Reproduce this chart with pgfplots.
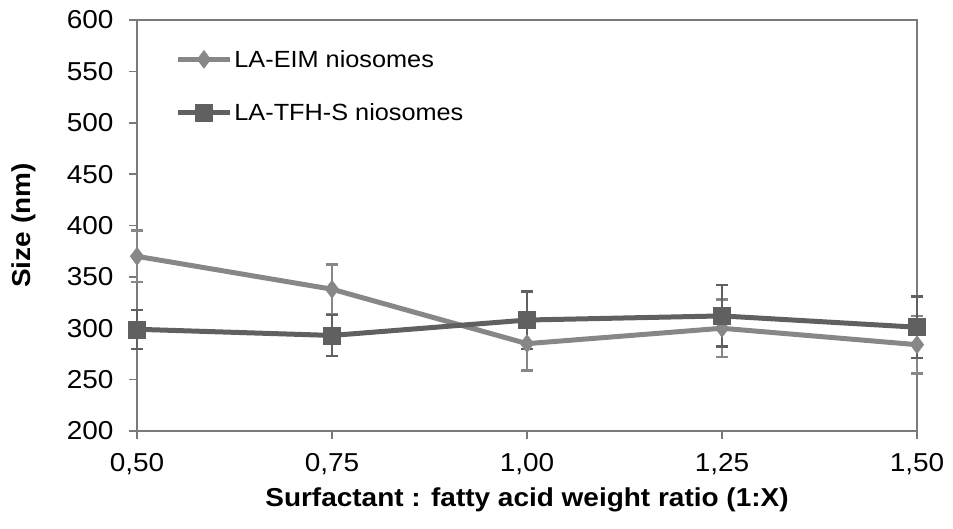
\documentclass[border=0pt]{standalone}
\usepackage{pgfplots}
\pgfplotsset{compat=1.18}
\usepackage{fontspec}
\setmainfont[FakeStretch=1.08]{Liberation Sans}
\definecolor{eim}{HTML}{878787}
\definecolor{tfh}{HTML}{606060}
\definecolor{axgray}{HTML}{7A7A7A}
\begin{document}
\begin{tikzpicture}[x=1bp,y=1bp]
\begin{axis}[
  name=ax,
  scale only axis,
  width=780bp, height=411bp,
  xmin=0.5, xmax=1.5, ymin=200, ymax=600,
  xtick={0.5,0.75,1,1.25,1.5},
  xticklabels={0{,}50,0{,}75,1{,}00,1{,}25,1{,}50},
  ytick={200,250,...,600},
  /pgf/number format/assume math mode=true,
  tick label style={font=\fontsize{26}{30}\selectfont},
  yticklabel style={xshift=-12bp},
  xticklabel style={yshift=-11bp},
  label style={font=\bfseries\fontsize{26}{30}\selectfont},
  xlabel={Surfactant : fatty acid weight ratio (1:X)},
  ylabel={Size (nm)},
  xlabel style={at={(axis description cs:0.5,0)}, anchor=center, yshift=-69bp},
  ylabel style={at={(axis description cs:0,0.5)}, anchor=center, yshift=113bp},
  axis line style={axgray, line width=1.8bp},
  tick style={axgray, line width=1.5bp},
  tick align=outside,
  major tick length=8bp,
  xtick pos=bottom, ytick pos=left,
  clip=false,
  legend style={draw=none, fill=none, at={(0.049,0.932)}, anchor=north west,
    font=\fontsize{23.5}{27}\selectfont, row sep=31bp, inner sep=0pt},
  legend cell align=left,
  legend image code/.code={
    \draw[#1, mark repeat=2, mark phase=2] plot coordinates {(0bp,0bp) (26bp,0bp) (52bp,0bp)};
  },
]
\addplot[eim, line width=5bp, mark=diamond*, mark size=9bp,
  mark options={fill=eim, draw=eim, line width=0.5bp},
  error bars/.cd, y dir=both, y explicit,
  error bar style={line width=2.5bp, eim},
  error mark options={rotate=90, mark size=6bp, line width=2.5bp, eim}]
  coordinates {
  (0.5,370) +- (0,25)
  (0.75,338) +- (0,24)
  (1.0,285) +- (0,26)
  (1.25,300) +- (0,28)
  (1.5,284) +- (0,28)
  };
\addlegendentry{LA-EIM niosomes}
\addplot[tfh, line width=5bp, mark=square*, mark size=8.5bp,
  mark options={fill=tfh, draw=tfh, line width=0.5bp},
  error bars/.cd, y dir=both, y explicit,
  error bar style={line width=2.5bp, tfh},
  error mark options={rotate=90, mark size=6bp, line width=2.5bp, tfh}]
  coordinates {
  (0.5,299) +- (0,19)
  (0.75,293) +- (0,20)
  (1.0,308) +- (0,28)
  (1.25,312) +- (0,30)
  (1.5,301) +- (0,30)
  };
\addlegendentry{LA-TFH-S niosomes}
\end{axis}
\pgfresetboundingbox
\path ([xshift=-137bp,yshift=-98bp]ax.south west) rectangle ([xshift=36bp,yshift=20bp]ax.north east);
\end{tikzpicture}
\end{document}
